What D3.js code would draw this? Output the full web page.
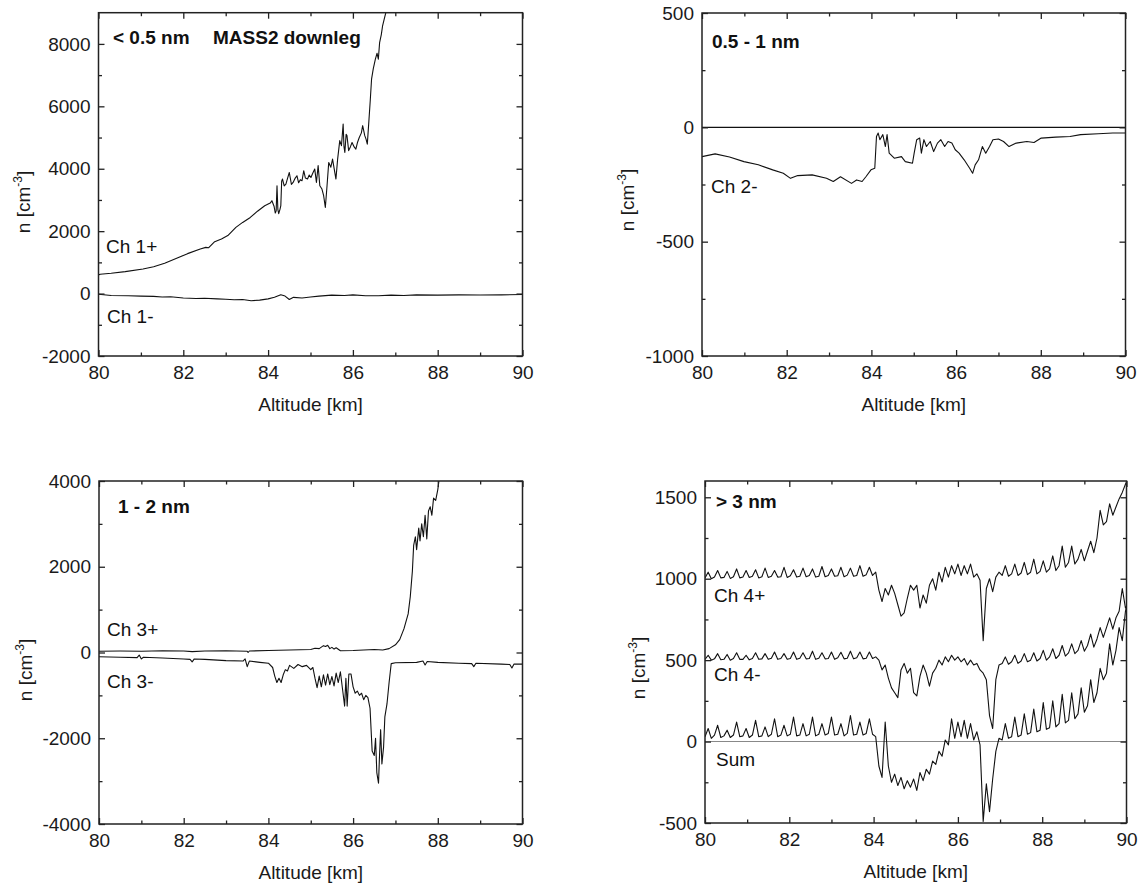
<!DOCTYPE html>
<html><head><meta charset="utf-8">
<script src="https://cdn.jsdelivr.net/npm/d3@7"></script>
<style>
body{margin:0;background:#fff;}
svg{display:block;font-family:"Liberation Sans",Arial,Helvetica,sans-serif;}
</style></head><body>
<svg id="chart" width="1141" height="884"></svg>
<script>
// ---------------- DATA ----------------
const xMajorTicks = [80, 82, 84, 86, 88, 90];
const xMinorTicks = [81, 83, 85, 87, 89];

// Panel 1: < 0.5 nm  [altitude km, n cm^-3]
const ch1Plus = [[80.0,600],[80.04,619],[80.3,650],[80.63,704],[81.05,789],[81.3,860],[81.56,970],[81.9,1163],[82.1,1280],[82.4,1430],[82.53,1480],[82.6,1470],[82.74,1664],[82.9,1750],[83.05,1860],[83.24,2120],[83.4,2280],[83.58,2440],[83.75,2640],[83.92,2816],[84.05,2900],[84.09,2976],[84.14,2800],[84.17,2580],[84.19,2650],[84.21,3456],[84.23,2700],[84.25,2560],[84.28,2700],[84.3,2816],[84.32,3600],[84.34,3670],[84.38,3450],[84.42,3510],[84.46,3700],[84.5,3880],[84.55,3500],[84.59,3560],[84.64,3700],[84.68,3776],[84.72,3550],[84.76,3650],[84.8,3616],[84.84,3936],[84.88,3700],[84.93,3670],[84.97,3800],[85.01,3720],[85.05,3850],[85.1,3990],[85.14,3560],[85.18,4100],[85.22,3456],[85.27,3350],[85.31,3136],[85.35,2760],[85.39,3456],[85.43,4200],[85.48,4050],[85.52,4310],[85.56,3990],[85.6,3670],[85.64,4310],[85.69,4900],[85.73,4740],[85.77,5430],[85.79,4700],[85.81,4520],[85.84,5100],[85.86,5060],[85.9,4580],[85.94,4700],[85.98,4840],[86.03,4700],[86.07,4630],[86.11,4850],[86.15,5000],[86.2,5150],[86.23,5380],[86.28,5060],[86.31,4950],[86.34,4790],[86.38,5590],[86.41,6200],[86.44,6870],[86.48,7200],[86.53,7510],[86.57,7700],[86.6,7510],[86.63,8040],[86.67,8300],[86.7,8580],[86.74,8800],[86.78,9020],[86.82,9300]];
const ch1Minus = [[80.0,-20],[80.3,-60],[80.7,-70],[81.0,-80],[81.3,-90],[81.5,-110],[81.7,-100],[82.0,-140],[82.3,-160],[82.5,-150],[82.8,-170],[83.0,-180],[83.2,-200],[83.4,-190],[83.6,-230],[83.8,-210],[84.0,-170],[84.15,-120],[84.3,-40],[84.4,-80],[84.5,-190],[84.6,-120],[84.8,-140],[85.0,-110],[85.2,-80],[85.5,-50],[85.8,-60],[86.0,-40],[86.3,-70],[86.6,-70],[86.9,-50],[87.2,-60],[87.5,-40],[88.0,-50],[88.5,-40],[89.0,-45],[89.5,-40],[90.0,-30]];

// Panel 2: 0.5 - 1 nm
const ch2Minus = [[80.0,-128],[80.31,-116],[80.65,-130],[80.99,-150],[81.33,-164],[81.67,-186],[81.92,-201],[82.09,-223],[82.26,-211],[82.6,-208],[82.94,-223],[83.1,-237],[83.27,-216],[83.53,-245],[83.65,-230],[83.78,-237],[83.87,-216],[83.99,-186],[84.08,-179],[84.12,-40],[84.16,-25],[84.2,-54],[84.27,-32],[84.33,-84],[84.37,-32],[84.42,-113],[84.54,-135],[84.71,-128],[84.8,-150],[84.97,-157],[85.01,-113],[85.07,-54],[85.14,-47],[85.18,-113],[85.24,-54],[85.3,-84],[85.39,-62],[85.47,-106],[85.56,-69],[85.64,-54],[85.73,-84],[85.81,-62],[85.9,-69],[85.98,-98],[86.07,-113],[86.19,-142],[86.32,-179],[86.39,-201],[86.45,-164],[86.53,-142],[86.62,-84],[86.7,-113],[86.79,-84],[86.87,-54],[87.0,-51],[87.12,-62],[87.25,-84],[87.42,-69],[87.67,-62],[87.84,-66],[88.01,-47],[88.35,-43],[88.69,-40],[88.94,-32],[89.36,-28],[89.7,-25],[90.0,-25]];

// Panel 3: 1 - 2 nm
const ch3Plus = [[80.0,30],[80.5,35],[81.0,30],[81.5,40],[82.0,35],[82.2,20],[82.5,35],[83.0,40],[83.5,30],[83.52,0],[83.55,35],[84.0,45],[84.5,60],[85.0,70],[85.1,100],[85.2,90],[85.3,160],[85.35,140],[85.4,170],[85.45,90],[85.5,120],[85.55,80],[85.6,110],[85.7,40],[86.0,45],[86.5,70],[86.7,60],[86.85,90],[87.0,180],[87.1,300],[87.2,550],[87.3,900],[87.35,1300],[87.4,1900],[87.43,2500],[87.47,2700],[87.5,2400],[87.55,2900],[87.58,2600],[87.62,3000],[87.66,2700],[87.7,3200],[87.74,2650],[87.78,3300],[87.82,3400],[87.86,3200],[87.9,3600],[87.95,3550],[88.0,3800],[88.04,4100]];
const ch3Minus = [[80.0,-100],[80.5,-110],[80.9,-120],[80.95,-60],[81.0,-150],[81.05,-110],[81.5,-130],[82.0,-150],[82.15,-160],[82.2,-220],[82.25,-150],[82.5,-160],[83.0,-190],[83.4,-200],[83.45,-150],[83.5,-330],[83.55,-200],[83.8,-230],[84.0,-250],[84.1,-350],[84.15,-550],[84.2,-700],[84.25,-600],[84.3,-700],[84.35,-520],[84.4,-400],[84.45,-430],[84.5,-300],[84.6,-370],[84.7,-280],[84.8,-330],[84.9,-300],[85.0,-400],[85.05,-350],[85.1,-600],[85.15,-820],[85.2,-550],[85.25,-800],[85.3,-520],[85.35,-760],[85.4,-500],[85.45,-750],[85.5,-560],[85.55,-780],[85.6,-480],[85.65,-700],[85.7,-450],[85.75,-850],[85.8,-1250],[85.83,-600],[85.86,-1250],[85.9,-500],[85.95,-500],[86.0,-800],[86.05,-950],[86.1,-900],[86.15,-1000],[86.2,-950],[86.25,-1100],[86.3,-1000],[86.35,-1050],[86.4,-1300],[86.45,-2300],[86.5,-2400],[86.53,-2000],[86.56,-2800],[86.6,-3050],[86.62,-2500],[86.65,-1800],[86.68,-2600],[86.72,-2200],[86.75,-1500],[86.8,-1200],[86.85,-700],[86.9,-260],[87.0,-240],[87.5,-230],[87.65,-200],[87.7,-290],[87.75,-210],[88.0,-230],[88.5,-250],[88.8,-260],[88.85,-330],[88.9,-250],[89.5,-270],[89.7,-280],[89.75,-360],[89.8,-270],[90.0,-270]];

// Panel 4: > 3 nm, sampled every 0.075 km from 80 km
const p4Start = 80, p4Step = 0.075;
const ch4Plus = [1005,1040,1000,1010,1050,1005,1008,1045,1002,1012,1060,1005,1010,1050,1008,1015,1055,1005,1012,1065,1008,1015,1050,1010,1012,1070,1008,1018,1055,1010,1015,1065,1012,1020,1060,1010,1015,1075,1012,1020,1060,1015,1018,1070,1012,1022,1065,1015,1020,1080,1015,1025,1070,1020,
1040,930,860,940,900,960,910,840,770,790,
880,960,930,960,820,900,850,960,1000,930,
1040,980,1070,1010,1080,1030,1090,1020,1080,1030,
1090,1010,1030,990,620,940,1000,920,1010,1040,
1020,1080,1015,1030,1090,1020,1035,1100,1025,1040,1120,1030,1045,1110,1040,1060,1140,1050,1080,1200,1070,1100,1200,1090,1120,1180,1110,1170,1230,1160,1250,1420,1330,1350,1460,1390,1440,1490,1530,
1580,1620];
const ch4Minus = [505,530,500,508,540,502,505,535,500,510,545,505,505,530,502,510,545,505,508,540,505,512,550,505,510,540,505,510,550,505,512,545,508,510,555,505,512,545,508,510,550,505,515,548,508,512,555,508,515,550,508,512,550,510,
520,500,440,470,390,330,300,270,440,480,
420,450,300,280,400,470,420,340,420,450,
500,470,520,490,530,500,520,490,510,470,
500,470,480,440,420,380,160,80,380,470,
480,520,475,490,530,480,495,540,490,500,545,495,510,560,500,520,570,510,530,590,525,545,600,540,560,620,555,590,660,580,630,700,640,700,760,690,760,800,940,
820,850];
const sumVals = [30,80,20,40,100,25,35,70,25,40,120,30,35,80,25,40,130,30,35,90,30,45,140,30,40,100,35,45,150,35,40,110,35,45,150,35,45,110,40,50,150,40,45,110,35,50,160,40,45,120,40,50,140,45,
30,-150,-220,120,-150,-250,-200,-270,-220,-290,
-240,-280,-230,-300,-190,-240,-170,-200,-120,-140,
-60,-90,10,-20,140,20,120,30,130,20,
110,10,60,-20,-490,-260,-430,-230,-60,20,
10,110,20,30,150,30,40,170,45,55,200,60,70,240,75,85,250,90,110,290,115,130,300,140,170,330,180,220,380,240,300,450,380,420,600,470,560,700,620,
800,880];

const toPairs = vals => vals.map((v, i) => [p4Start + i * p4Step, v]);

// ---------------- LAYOUT ----------------
const panels = [
  { id: 1, l: 98.5, r: 522.5, t: 12.7, b: 356, yDomain: [-2000, 9000],
    yMajor: [-2000, 0, 2000, 4000, 6000, 8000], yMinor: [-1000, 1000, 3000, 5000, 7000],
    series: [ch1Plus, ch1Minus], zero: null, yTitle: { x: 30, cy: 202 },
    labels: [
      { t: "< 0.5 nm", x: 113, y: 44, bold: true },
      { t: "MASS2 downleg", x: 213, y: 44, bold: true },
      { t: "Ch 1+", x: 106, y: 253 },
      { t: "Ch 1-", x: 107, y: 323 }] },
  { id: 2, l: 702, r: 1125.5, t: 13, b: 356, yDomain: [-1000, 500],
    yMajor: [-1000, -500, 0, 500], yMinor: [-750, -250, 250],
    series: [ch2Minus], zero: "#111", yTitle: { x: 634, cy: 200 },
    labels: [
      { t: "0.5 - 1 nm", x: 712, y: 48, bold: true },
      { t: "Ch 2-", x: 711, y: 193 }] },
  { id: 3, l: 99, r: 522.5, t: 481, b: 824, yDomain: [-4000, 4000],
    yMajor: [-4000, -2000, 0, 2000, 4000], yMinor: [-3000, -1000, 1000, 3000],
    series: [ch3Plus, ch3Minus], zero: null, yTitle: { x: 32, cy: 670 },
    labels: [
      { t: "1 - 2 nm", x: 118, y: 513, bold: true },
      { t: "Ch 3+", x: 107, y: 636 },
      { t: "Ch 3-", x: 107, y: 688 }] },
  { id: 4, l: 705, r: 1126.5, t: 481, b: 823, yDomain: [-500, 1600],
    yMajor: [-500, 0, 500, 1000, 1500], yMinor: [-250, 250, 750, 1250],
    series: [toPairs(ch4Plus), toPairs(ch4Minus), toPairs(sumVals)], zero: "#888", yTitle: { x: 645, cy: 668 },
    labels: [
      { t: "> 3 nm", x: 716, y: 508, bold: true },
      { t: "Ch 4+", x: 714, y: 602 },
      { t: "Ch 4-", x: 714, y: 681 },
      { t: "Sum", x: 716, y: 766 }] }
];

const svg = d3.select("#chart");
const FS = 19;
const fmt = d => String(d);

function styleAxis(sel, showText) {
  sel.select(".domain").remove();
  sel.selectAll(".tick line").attr("stroke", "#222").attr("stroke-width", 1.3);
  sel.selectAll(".tick text").attr("fill", "#1a1a1a").style("font-size", FS + "px");
  if (!showText) sel.selectAll(".tick text").remove();
}

panels.forEach(p => {
  const x = d3.scaleLinear().domain([80, 90]).range([p.l, p.r]);
  const y = d3.scaleLinear().domain(p.yDomain).range([p.b, p.t]);
  const g = svg.append("g");
  const clipId = "clip" + p.id;
  svg.append("clipPath").attr("id", clipId).append("rect")
    .attr("x", p.l).attr("y", p.t).attr("width", p.r - p.l).attr("height", p.b - p.t);

  if (p.zero) {
    g.append("line").attr("x1", p.l).attr("x2", p.r).attr("y1", y(0)).attr("y2", y(0))
      .attr("stroke", p.zero).attr("stroke-width", 1.1);
  }

  const line = d3.line().x(d => x(d[0])).y(d => y(d[1]));
  p.series.forEach(s => {
    g.append("path").datum(s).attr("clip-path", `url(#${clipId})`)
      .attr("d", line).attr("fill", "none").attr("stroke", "#111")
      .attr("stroke-width", 1.1).attr("stroke-linejoin", "round");
  });

  // axes: major
  g.append("g").attr("transform", `translate(0,${p.b})`)
    .call(d3.axisBottom(x).tickValues(xMajorTicks).tickSize(-6).tickSizeOuter(0).tickPadding(10).tickFormat(fmt))
    .call(s => styleAxis(s, true));
  g.append("g").attr("transform", `translate(0,${p.t})`)
    .call(d3.axisTop(x).tickValues(xMajorTicks).tickSize(-6).tickSizeOuter(0).tickFormat(""))
    .call(s => styleAxis(s, false));
  g.append("g").attr("transform", `translate(${p.l},0)`)
    .call(d3.axisLeft(y).tickValues(p.yMajor).tickSize(-6).tickSizeOuter(0).tickPadding(8).tickFormat(fmt))
    .call(s => styleAxis(s, true));
  g.append("g").attr("transform", `translate(${p.r},0)`)
    .call(d3.axisRight(y).tickValues(p.yMajor).tickSize(-6).tickSizeOuter(0).tickFormat(""))
    .call(s => styleAxis(s, false));
  // minor
  g.append("g").attr("transform", `translate(0,${p.b})`)
    .call(d3.axisBottom(x).tickValues(xMinorTicks).tickSize(-3.5).tickSizeOuter(0).tickFormat(""))
    .call(s => styleAxis(s, false));
  g.append("g").attr("transform", `translate(0,${p.t})`)
    .call(d3.axisTop(x).tickValues(xMinorTicks).tickSize(-3.5).tickSizeOuter(0).tickFormat(""))
    .call(s => styleAxis(s, false));
  g.append("g").attr("transform", `translate(${p.l},0)`)
    .call(d3.axisLeft(y).tickValues(p.yMinor).tickSize(-3.5).tickSizeOuter(0).tickFormat(""))
    .call(s => styleAxis(s, false));
  g.append("g").attr("transform", `translate(${p.r},0)`)
    .call(d3.axisRight(y).tickValues(p.yMinor).tickSize(-3.5).tickSizeOuter(0).tickFormat(""))
    .call(s => styleAxis(s, false));

  // frame
  g.append("rect").attr("x", p.l).attr("y", p.t).attr("width", p.r - p.l).attr("height", p.b - p.t)
    .attr("fill", "none").attr("stroke", "#222").attr("stroke-width", 1.5);

  // axis titles
  g.append("text").attr("x", (p.l + p.r) / 2).attr("y", p.b + 54.5)
    .attr("text-anchor", "middle").style("font-size", FS + "px").attr("fill", "#1a1a1a")
    .text("Altitude [km]");
  const yt = g.append("text").attr("transform", `translate(${p.yTitle.x},${p.yTitle.cy}) rotate(-90)`)
    .attr("text-anchor", "middle").style("font-size", FS + "px").attr("fill", "#1a1a1a");
  yt.append("tspan").text("n [cm");
  yt.append("tspan").attr("dy", -8).style("font-size", "12px").text("-3");
  yt.append("tspan").attr("dy", 8).text("]");

  // annotations
  p.labels.forEach(lb => {
    g.append("text").attr("x", lb.x).attr("y", lb.y)
      .style("font-size", FS + "px").style("font-weight", lb.bold ? "bold" : "normal")
      .attr("fill", "#111").text(lb.t);
  });
});
</script>
</body></html>
